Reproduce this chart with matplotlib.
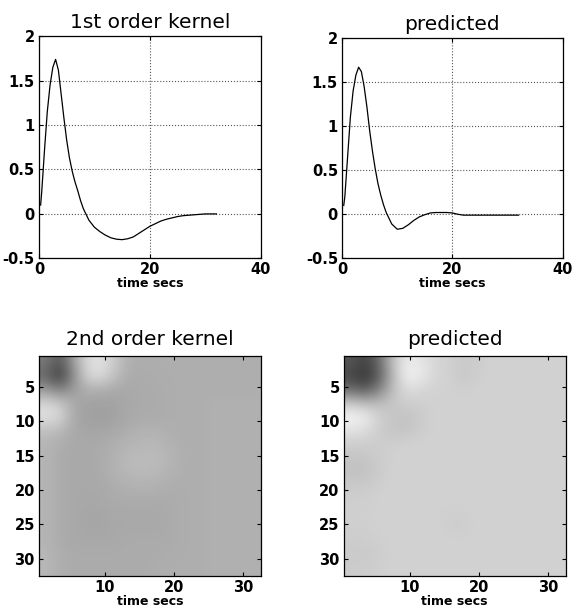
import numpy as np
import matplotlib
matplotlib.use('Agg')
import matplotlib.pyplot as plt

# time axis of the 1st order kernels (secs)
time = [0.3, 0.5, 1, 1.5, 2, 2.5, 3, 3.5, 4, 4.5, 5, 5.5, 6, 6.5, 7, 7.5, 8,
        9, 10, 11, 12, 13, 14, 15, 16, 17, 18, 19, 20, 21, 22, 23, 24, 25,
        26, 27, 28, 29, 30, 31, 32]

kernel1 = [0.10, 0.25, 0.72, 1.15, 1.45, 1.65, 1.74, 1.62, 1.35, 1.08, 0.83,
           0.63, 0.48, 0.36, 0.26, 0.15, 0.06,
           -0.07, -0.15, -0.20, -0.24, -0.27, -0.285, -0.29, -0.28, -0.26,
           -0.22, -0.18, -0.14, -0.11, -0.08, -0.06, -0.045, -0.03, -0.02,
           -0.015, -0.01, -0.005, 0.0, 0.0, 0.0]

predicted1 = [0.10, 0.20, 0.65, 1.10, 1.40, 1.58, 1.67, 1.62, 1.45, 1.22, 0.95,
              0.72, 0.52, 0.35, 0.22, 0.11, 0.02,
              -0.11, -0.17, -0.16, -0.12, -0.07, -0.03, -0.005, 0.015, 0.02,
              0.02, 0.02, 0.015, 0.0, -0.01, -0.01, -0.01, -0.01, -0.01,
              -0.01, -0.01, -0.01, -0.01, -0.01, -0.01]

# 2nd order kernels, grey level on a 16x16 grid (2 s cells)
kernel2 = [
    [0.48, 0.33, 0.62, 0.86, 0.88, 0.78, 0.68, 0.68, 0.68, 0.68, 0.68, 0.68, 0.68, 0.68, 0.68, 0.68],
    [0.40, 0.22, 0.55, 0.84, 0.86, 0.75, 0.67, 0.67, 0.68, 0.68, 0.68, 0.68, 0.68, 0.68, 0.68, 0.68],
    [0.60, 0.50, 0.62, 0.68, 0.68, 0.66, 0.66, 0.67, 0.67, 0.68, 0.68, 0.68, 0.68, 0.68, 0.68, 0.68],
    [0.84, 0.80, 0.66, 0.64, 0.63, 0.64, 0.66, 0.67, 0.67, 0.68, 0.68, 0.68, 0.69, 0.69, 0.69, 0.69],
    [0.88, 0.84, 0.66, 0.63, 0.62, 0.64, 0.66, 0.67, 0.67, 0.68, 0.68, 0.68, 0.69, 0.69, 0.69, 0.69],
    [0.74, 0.72, 0.66, 0.65, 0.65, 0.66, 0.68, 0.70, 0.70, 0.68, 0.68, 0.68, 0.69, 0.69, 0.69, 0.69],
    [0.71, 0.68, 0.66, 0.66, 0.67, 0.69, 0.71, 0.72, 0.72, 0.70, 0.68, 0.68, 0.69, 0.69, 0.69, 0.69],
    [0.71, 0.67, 0.66, 0.66, 0.67, 0.70, 0.73, 0.73, 0.73, 0.71, 0.68, 0.68, 0.69, 0.69, 0.69, 0.69],
    [0.71, 0.67, 0.66, 0.66, 0.67, 0.70, 0.72, 0.73, 0.72, 0.70, 0.68, 0.68, 0.69, 0.69, 0.69, 0.69],
    [0.71, 0.67, 0.66, 0.66, 0.66, 0.68, 0.69, 0.70, 0.69, 0.68, 0.68, 0.68, 0.69, 0.69, 0.69, 0.69],
    [0.71, 0.67, 0.66, 0.66, 0.66, 0.67, 0.67, 0.67, 0.67, 0.67, 0.68, 0.68, 0.69, 0.69, 0.69, 0.69],
    [0.71, 0.67, 0.66, 0.65, 0.65, 0.66, 0.66, 0.66, 0.66, 0.67, 0.68, 0.68, 0.69, 0.69, 0.69, 0.69],
    [0.71, 0.67, 0.66, 0.65, 0.65, 0.66, 0.66, 0.66, 0.66, 0.67, 0.68, 0.68, 0.69, 0.69, 0.69, 0.69],
    [0.71, 0.67, 0.66, 0.66, 0.66, 0.66, 0.67, 0.67, 0.67, 0.67, 0.68, 0.68, 0.69, 0.69, 0.69, 0.69],
    [0.72, 0.68, 0.67, 0.67, 0.67, 0.67, 0.67, 0.67, 0.67, 0.68, 0.68, 0.68, 0.69, 0.69, 0.69, 0.69],
    [0.72, 0.68, 0.67, 0.67, 0.67, 0.67, 0.67, 0.67, 0.68, 0.68, 0.68, 0.68, 0.69, 0.69, 0.69, 0.69],
]

predicted2 = [
    [0.34, 0.26, 0.40, 0.75, 0.92, 0.90, 0.84, 0.82, 0.79, 0.80, 0.82, 0.82, 0.82, 0.82, 0.82, 0.82],
    [0.28, 0.20, 0.35, 0.72, 0.95, 0.92, 0.84, 0.82, 0.78, 0.80, 0.82, 0.82, 0.82, 0.82, 0.82, 0.82],
    [0.42, 0.35, 0.50, 0.74, 0.86, 0.84, 0.82, 0.82, 0.81, 0.82, 0.82, 0.82, 0.82, 0.82, 0.82, 0.82],
    [0.80, 0.75, 0.74, 0.78, 0.80, 0.81, 0.82, 0.82, 0.82, 0.82, 0.82, 0.82, 0.82, 0.82, 0.82, 0.82],
    [0.96, 0.93, 0.82, 0.77, 0.76, 0.79, 0.82, 0.82, 0.82, 0.82, 0.82, 0.82, 0.82, 0.82, 0.82, 0.82],
    [0.88, 0.86, 0.80, 0.77, 0.77, 0.80, 0.82, 0.82, 0.82, 0.82, 0.82, 0.82, 0.82, 0.82, 0.82, 0.82],
    [0.80, 0.80, 0.80, 0.81, 0.82, 0.82, 0.82, 0.82, 0.82, 0.82, 0.82, 0.82, 0.82, 0.82, 0.82, 0.82],
    [0.77, 0.77, 0.80, 0.82, 0.82, 0.82, 0.82, 0.82, 0.82, 0.82, 0.82, 0.82, 0.82, 0.82, 0.82, 0.82],
    [0.76, 0.76, 0.79, 0.82, 0.82, 0.82, 0.82, 0.82, 0.82, 0.82, 0.82, 0.82, 0.82, 0.82, 0.82, 0.82],
    [0.79, 0.79, 0.81, 0.82, 0.82, 0.82, 0.82, 0.82, 0.82, 0.82, 0.82, 0.82, 0.82, 0.82, 0.82, 0.82],
    [0.81, 0.81, 0.82, 0.82, 0.82, 0.82, 0.82, 0.82, 0.82, 0.82, 0.82, 0.82, 0.82, 0.82, 0.82, 0.82],
    [0.81, 0.81, 0.82, 0.82, 0.82, 0.82, 0.82, 0.81, 0.81, 0.82, 0.82, 0.82, 0.82, 0.82, 0.82, 0.82],
    [0.81, 0.81, 0.82, 0.82, 0.82, 0.82, 0.82, 0.81, 0.80, 0.82, 0.82, 0.82, 0.82, 0.82, 0.82, 0.82],
    [0.80, 0.80, 0.81, 0.82, 0.82, 0.82, 0.82, 0.82, 0.82, 0.82, 0.82, 0.82, 0.82, 0.82, 0.82, 0.82],
    [0.79, 0.79, 0.80, 0.82, 0.82, 0.82, 0.82, 0.82, 0.82, 0.82, 0.82, 0.82, 0.82, 0.82, 0.82, 0.82],
    [0.80, 0.80, 0.81, 0.82, 0.82, 0.82, 0.82, 0.82, 0.82, 0.82, 0.82, 0.82, 0.82, 0.82, 0.82, 0.82],
]

line_titles = ['1st order kernel', 'predicted']
image_titles = ['2nd order kernel', 'predicted']


def style_axes(ax):
    ax.tick_params(direction='in', top=True, right=True, length=3, width=0.8,
                   labelsize=10.5, pad=3)
    for lab in ax.get_xticklabels() + ax.get_yticklabels():
        lab.set_fontweight('bold')
    for sp in ax.spines.values():
        sp.set_linewidth(0.9)


fig = plt.figure(figsize=(5.73, 6.15), dpi=100)

line_pos = [[0.068, 0.580, 0.387, 0.361], [0.597, 0.580, 0.385, 0.358]]
image_pos = [[0.068, 0.0634, 0.387, 0.358], [0.600, 0.0634, 0.387, 0.358]]

for i, series in enumerate([kernel1, predicted1]):
    ax = fig.add_axes(line_pos[i])
    ax.plot(time, series, color='black', linewidth=0.9)
    ax.set_xlim(0, 40)
    ax.set_ylim(-0.5, 2)
    ax.set_xticks([0, 20, 40])
    ax.set_yticks([-0.5, 0, 0.5, 1, 1.5, 2])
    ax.set_yticklabels(['-0.5', '0', '0.5', '1', '1.5', '2'])
    ax.grid(True, linestyle=':', color='#555555', linewidth=0.8)
    ax.set_title(line_titles[i], fontsize=14.5, pad=6)
    ax.set_xlabel('time secs', fontsize=9, fontweight='bold', labelpad=0)
    style_axes(ax)

for i, img in enumerate([kernel2, predicted2]):
    ax = fig.add_axes(image_pos[i])
    ax.imshow(np.array(img), cmap='gray', vmin=0, vmax=1, interpolation='bicubic',
              extent=[0.5, 32.5, 32.5, 0.5], aspect='auto')
    ax.set_xticks([10, 20, 30])
    ax.set_yticks([5, 10, 15, 20, 25, 30])
    ax.set_title(image_titles[i], fontsize=14.5, pad=8)
    ax.set_xlabel('time secs', fontsize=9, fontweight='bold', labelpad=0)
    style_axes(ax)

fig.savefig('out.png', dpi=100)
